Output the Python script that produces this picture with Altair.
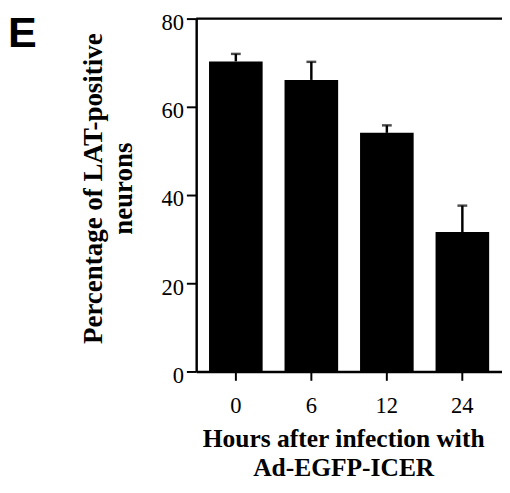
import altair as alt
import pandas as pd

hours = ["0", "6", "12", "24"]
values = [70.3, 66.1, 54.1, 31.6]
errors = [1.7, 4.1, 1.7, 6.0]

df = pd.DataFrame({"hours": hours, "value": values, "err": errors})
df["top"] = df["value"] + df["err"]

serif = "Liberation Serif"

x_enc = alt.X("hours:N", sort=hours,
              scale=alt.Scale(paddingInner=0.29, paddingOuter=0.17),
              axis=alt.Axis(title=["Hours after infection with", "Ad-EGFP-ICER"],
                            labelAngle=0, labelFont=serif, labelFontSize=23,
                            labelColor="black", labelPadding=15,
                            titleFont=serif, titleFontSize=26, titleFontWeight="bold",
                            titleColor="black", titlePadding=9, titleLineHeight=29,
                            titleX=150,
                            domainColor="black", domainWidth=2.5,
                            tickColor="black", tickWidth=2, tickSize=9))
y_scale = alt.Scale(domain=[0, 80])

bars = alt.Chart(df).mark_bar(color="black").encode(
    x=x_enc,
    y=alt.Y("value:Q", scale=y_scale,
            axis=alt.Axis(values=[0, 20, 40, 60, 80], grid=False,
                          title=["Percentage of LAT-positive", "neurons"],
                          labelFont=serif, labelFontSize=23, labelColor="black",
                          labelPadding=3, labelOffset=4,
                          titleFont=serif, titleFontSize=27.5, titleFontWeight="bold",
                          titleColor="black", titlePadding=24, titleLineHeight=31,
                          titleY=173,
                          domainColor="black", domainWidth=2.5,
                          tickColor="black", tickWidth=2, tickSize=10)),
)

err_rule = alt.Chart(df).mark_rule(color="black", strokeWidth=2.5).encode(
    x=alt.X("hours:N", sort=hours),
    y="value:Q",
    y2="top:Q",
)

caps = alt.Chart(df).mark_tick(color="black", size=10, thickness=2.5).encode(
    x=alt.X("hours:N", sort=hours),
    y="top:Q",
)

top_line = alt.Chart(pd.DataFrame({"v": [80]})).mark_rule(color="black", strokeWidth=2.5).encode(
    y=alt.Y("v:Q", scale=y_scale),
    x=alt.value(0),
    x2=alt.value(312),
)

label = alt.Chart(pd.DataFrame({"t": ["E"]})).mark_text(
    font="Liberation Sans", fontSize=44, fontWeight="bold", color="black",
    align="left", baseline="alphabetic"
).encode(text="t:N", x=alt.value(-192), y=alt.value(29))

chart = alt.layer(bars, err_rule, caps, top_line, label).properties(
    width=312, height=360,
    autosize=alt.AutoSizeParams(type="none"),
    padding={"left": 192, "top": 6, "right": 0, "bottom": 111},
).configure_view(stroke=None).configure(background="white")

chart.save("out.html", embed_options={"renderer": "svg", "actions": False})
